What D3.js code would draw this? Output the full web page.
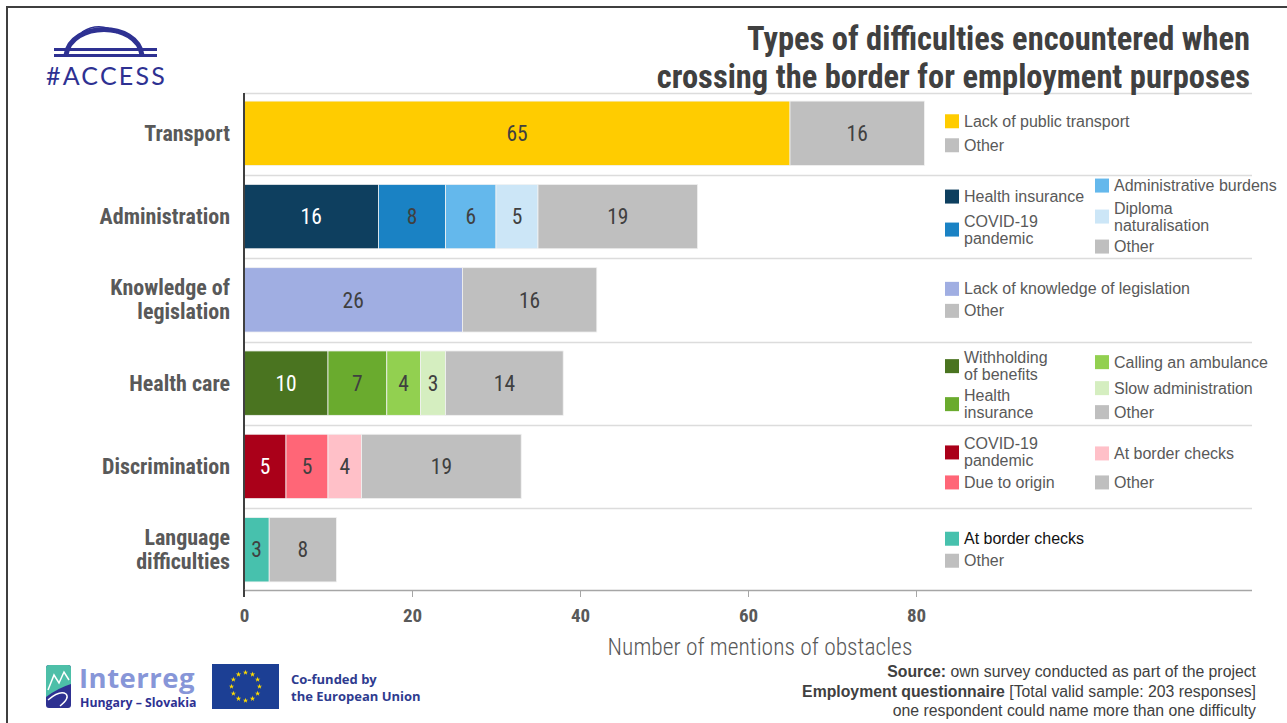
<!DOCTYPE html>
<html>
<head>
<meta charset="utf-8">
<script src="https://cdn.jsdelivr.net/npm/d3@7"></script>
<style>
  html, body { margin: 0; padding: 0; background: #fff; }
  svg { display: block; }
  .narrow { font-family: "Liberation Sans Narrow", "Arial Narrow", "Roboto Condensed", "DejaVu Sans Condensed", sans-serif; }
  .sans { font-family: "Liberation Sans", Arial, sans-serif; }
</style>
</head>
<body>
<svg id="chart" width="1287" height="723"></svg>
<script>
// ---- Data ----
const categories = ["Transport", "Administration", "Knowledge of legislation", "Health care", "Discrimination", "Language difficulties"];
const categoryLines = [["Transport"], ["Administration"], ["Knowledge of", "legislation"], ["Health care"], ["Discrimination"], ["Language", "difficulties"]];

const transportValues = [65, 16];
const administrationValues = [16, 8, 6, 5, 19];
const legislationValues = [26, 16];
const healthCareValues = [10, 7, 4, 3, 14];
const discriminationValues = [5, 5, 4, 19];
const languageValues = [3, 8];

const transportLabels = ["Lack of public transport", "Other"];
const administrationLabels = ["Health insurance", "COVID-19\npandemic", "Administrative burdens", "Diploma\nnaturalisation", "Other"];
const legislationLabels = ["Lack of knowledge of legislation", "Other"];
const healthCareLabels = ["Withholding\nof benefits", "Health\ninsurance", "Calling an ambulance", "Slow administration", "Other"];
const discriminationLabels = ["COVID-19\npandemic", "Due to origin", "At border checks", "Other"];
const languageLabels = ["At border checks", "Other"];

const xTicks = [0, 20, 40, 60, 80];

// ---- Styles ----
const GREY = "#bfbfbf";
const transportColors = ["#ffcc00", GREY];
const administrationColors = ["#0e3f5f", "#1a82c4", "#64b8ec", "#cce6f7", GREY];
const legislationColors = ["#a0aee2", GREY];
const healthCareColors = ["#4a7420", "#6aab2e", "#92d050", "#d5eec0", GREY];
const discriminationColors = ["#aa0019", "#ff6677", "#ffc0c8", GREY];
const languageColors = ["#47c1ad", GREY];
const darkSegments = ["#0e3f5f", "#4a7420", "#aa0019"];

// Legend slot per segment: [column, vertical offset from band centre]
const legendSlots = [
  [[0, -12], [0, 12]],
  [[0, -20], [0, 13], [1, -31], [1, 0], [1, 30]],
  [[0, -11], [0, 11]],
  [[0, -17], [0, 21], [1, -21], [1, 5], [1, 29]],
  [[0, -14], [0, 16], [1, -13], [1, 16]],
  [[0, -11], [0, 11]]
];

const rows = categories.map((c, i) => ({
  name: c,
  lines: categoryLines[i],
  values: [transportValues, administrationValues, legislationValues, healthCareValues, discriminationValues, languageValues][i],
  colors: [transportColors, administrationColors, legislationColors, healthCareColors, discriminationColors, languageColors][i],
  labels: [transportLabels, administrationLabels, legislationLabels, healthCareLabels, discriminationLabels, languageLabels][i],
  slots: legendSlots[i]
}));

// ---- Layout ----
const svg = d3.select("#chart");
const plotTop = 93, plotBottom = 590, plotLeft = 244, gridRight = 1252;

const x = d3.scaleLinear().domain([0, 80]).range([plotLeft, 916]);
const y = d3.scaleBand().domain(categories).range([plotTop, plotBottom]).paddingInner(0.227).paddingOuter(0.097);

// Frame
svg.append("line").attr("x1", 7).attr("x2", 1287).attr("y1", 7).attr("y2", 7).attr("stroke", "#3f3f3f").attr("stroke-width", 2);
svg.append("line").attr("x1", 7).attr("x2", 7).attr("y1", 6).attr("y2", 723).attr("stroke", "#3f3f3f").attr("stroke-width", 2);

// Row separators
const sepYs = [plotTop].concat(categories.slice(1).map(c => y(c) - y.step() * y.paddingInner() / 2));
svg.append("g").selectAll("line").data(sepYs).join("line")
  .attr("x1", plotLeft).attr("x2", gridRight)
  .attr("y1", d => Math.round(d) + 0.5).attr("y2", d => Math.round(d) + 0.5)
  .attr("stroke", "#dcdcdc").attr("stroke-width", 1.5);

// Bars
const rowG = svg.append("g").selectAll("g").data(rows).join("g")
  .attr("transform", d => `translate(0,${y(d.name)})`);

rowG.each(function(row) {
  const g = d3.select(this);
  let acc = 0;
  const segs = row.values.map((v, i) => { const s = { v, x0: acc, x1: acc + v, color: row.colors[i] }; acc += v; return s; });
  g.selectAll("rect").data(segs).join("rect")
    .attr("x", d => x(d.x0)).attr("width", d => x(d.x1) - x(d.x0))
    .attr("y", 0).attr("height", y.bandwidth())
    .attr("fill", d => d.color).attr("stroke", "#f2f2f2").attr("stroke-width", 0.8);
  g.selectAll("text.val").data(segs).join("text")
    .attr("class", "val narrow")
    .attr("x", d => (x(d.x0) + x(d.x1)) / 2).attr("y", y.bandwidth() / 2)
    .attr("dy", "0.36em").attr("text-anchor", "middle")
    .attr("font-size", 21.5)
    .attr("fill", d => darkSegments.includes(d.color) ? "#ffffff" : "#404040")
    .text(d => d.v);
});

// Category labels
const catG = svg.append("g").selectAll("text").data(rows).join("text")
  .attr("class", "narrow").attr("font-weight", "bold").attr("font-size", 22)
  .attr("fill", "#595959").attr("text-anchor", "end")
  .attr("x", 230)
  .attr("y", d => y(d.name) + y.bandwidth() / 2);
catG.selectAll("tspan").data(d => d.lines.map((l, i, a) => ({ l, off: (i - (a.length - 1) / 2) * 24 }))).join("tspan")
  .attr("x", 230).attr("dy", (d, i) => i === 0 ? d.off + 7.5 : 24)
  .text(d => d.l);

// Y axis line
svg.append("line").attr("x1", plotLeft).attr("x2", plotLeft).attr("y1", plotTop).attr("y2", plotBottom)
  .attr("stroke", "#404040").attr("stroke-width", 2);

// X axis
const xAxis = svg.append("g").attr("transform", `translate(0,${plotBottom})`)
  .call(d3.axisBottom(x).tickValues(xTicks).tickSize(7).tickPadding(12).tickSizeOuter(0));
xAxis.select(".domain").attr("stroke", "#a6a6a6").attr("stroke-width", 1.5).attr("d", `M${plotLeft},0.5H${gridRight}`);
xAxis.selectAll(".tick line").attr("stroke", "#a6a6a6");
xAxis.selectAll(".tick text").attr("class", "narrow").attr("font-size", 19).attr("font-weight", "bold").attr("fill", "#595959");
svg.append("line").attr("x1", plotLeft).attr("x2", plotLeft).attr("y1", plotBottom).attr("y2", plotBottom + 7)
  .attr("stroke", "#404040").attr("stroke-width", 2);

svg.append("text").attr("class", "narrow").attr("x", 760).attr("y", 655)
  .attr("text-anchor", "middle").attr("font-size", 23.5).attr("font-weight", 300).attr("fill", "#595959")
  .text("Number of mentions of obstacles");

// Legends
const colX = [945, 1095];
rowG.each(function(row) {
  const g = d3.select(this);
  const cy = y.bandwidth() / 2;
  row.labels.forEach((lab, i) => {
    const [col, dy] = row.slots[i];
    const lines = lab.split("\n");
    g.append("rect").attr("x", colX[col]).attr("y", cy + dy - 7).attr("width", 14).attr("height", 14)
      .attr("fill", row.colors[i]);
    const t = g.append("text").attr("class", "sans").attr("font-size", 16)
      .attr("fill", row.name === "Language difficulties" && i === 0 ? "#111111" : "#595959")
      .attr("x", colX[col] + 19).attr("y", cy + dy);
    lines.forEach((l, k) => {
      t.append("tspan").attr("x", colX[col] + 19)
        .attr("dy", k === 0 ? ((-(lines.length - 1) / 2) * 17 + 5.5) : 17)
        .text(l);
    });
  });
});

// Title
const title = svg.append("text").attr("class", "narrow").attr("font-weight", "bold").attr("font-size", 32.5)
  .attr("fill", "#404040").attr("text-anchor", "end");
title.append("tspan").attr("x", 1250).attr("y", 50).text("Types of difficulties encountered when");
title.append("tspan").attr("x", 1250).attr("y", 88).text("crossing the border for employment purposes");

// #ACCESS logo
const NAVY = "#2e3192";
const logo = svg.append("g");
logo.append("path").attr("d", "M66,55 C71,21 137,21 142,55").attr("fill", "none").attr("stroke", NAVY).attr("stroke-width", 5);
logo.append("path").attr("d", "M82,32 Q100,21 117,33").attr("fill", "none").attr("stroke", NAVY).attr("stroke-width", 1.3);
logo.append("rect").attr("x", 54).attr("y", 48).attr("width", 103).attr("height", 3).attr("fill", NAVY);
logo.append("rect").attr("x", 54).attr("y", 54).attr("width", 103).attr("height", 3).attr("fill", NAVY);
logo.append("text").attr("x", 46).attr("y", 85).attr("font-family", "Lato, 'Open Sans', sans-serif")
  .attr("font-size", 25).attr("letter-spacing", 2.2).attr("fill", NAVY).text("#ACCESS");

// Interreg logo
const ir = svg.append("g");
ir.append("rect").attr("x", 46).attr("y", 665).attr("width", 25).attr("height", 43).attr("rx", 3).attr("fill", NAVY);
ir.append("path").attr("d", "M46,668 Q46,665 49,665 L68,665 Q71,665 71,668 L71,684 Q58,688 46,697 Z").attr("fill", "#4dbfa8");
ir.append("path").attr("d", "M48,690 L54,675 L59,683 L64,672 L69,680").attr("fill", "none").attr("stroke", "#fff").attr("stroke-width", 1.5);
ir.append("path").attr("d", "M48,700 Q60,690 66,694 Q70,698 60,706").attr("fill", "none").attr("stroke", "#fff").attr("stroke-width", 1.5);
ir.append("text").attr("x", 79).attr("y", 688).attr("font-family", "'Open Sans', 'Noto Sans', sans-serif")
  .attr("font-weight", "bold").attr("font-size", 27.5).attr("letter-spacing", 0.5).attr("fill", "#8796d8").text("Interreg");
ir.append("text").attr("x", 80).attr("y", 707).attr("font-family", "'Open Sans', 'Noto Sans', sans-serif")
  .attr("font-weight", "bold").attr("font-size", 12.3).attr("fill", NAVY).text("Hungary – Slovakia");

// EU flag
const eu = svg.append("g");
eu.append("rect").attr("x", 212).attr("y", 664).attr("width", 67).attr("height", 45).attr("fill", "#1c3f94");
d3.range(12).forEach(i => {
  const a = i / 12 * 2 * Math.PI;
  eu.append("path").attr("d", d3.symbol(d3.symbolStar, 9)())
    .attr("transform", `translate(${245.5 + 14 * Math.sin(a)},${686.5 - 14 * Math.cos(a)})`)
    .attr("fill", "#ffdd00");
});
eu.append("text").attr("x", 291).attr("y", 684).attr("font-family", "'Open Sans', 'Noto Sans', sans-serif")
  .attr("font-weight", "bold").attr("font-size", 13).attr("fill", "#2e3b8f").text("Co-funded by");
eu.append("text").attr("x", 291).attr("y", 701).attr("font-family", "'Open Sans', 'Noto Sans', sans-serif")
  .attr("font-weight", "bold").attr("font-size", 13).attr("fill", "#2e3b8f").text("the European Union");

// Source note
const src = svg.append("text").attr("class", "sans").attr("font-size", 15.8).attr("fill", "#404040").attr("text-anchor", "end");
const l1 = src.append("tspan").attr("x", 1256).attr("y", 677);
l1.append("tspan").attr("font-weight", "bold").text("Source:");
l1.append("tspan").text(" own survey conducted as part of the project");
const l2 = src.append("tspan").attr("x", 1256).attr("y", 697);
l2.append("tspan").attr("font-weight", "bold").text("Employment questionnaire");
l2.append("tspan").text(" [Total valid sample: 203 responses]");
src.append("tspan").attr("x", 1256).attr("y", 716).text("one respondent could name more than one difficulty");
</script>
</body>
</html>
